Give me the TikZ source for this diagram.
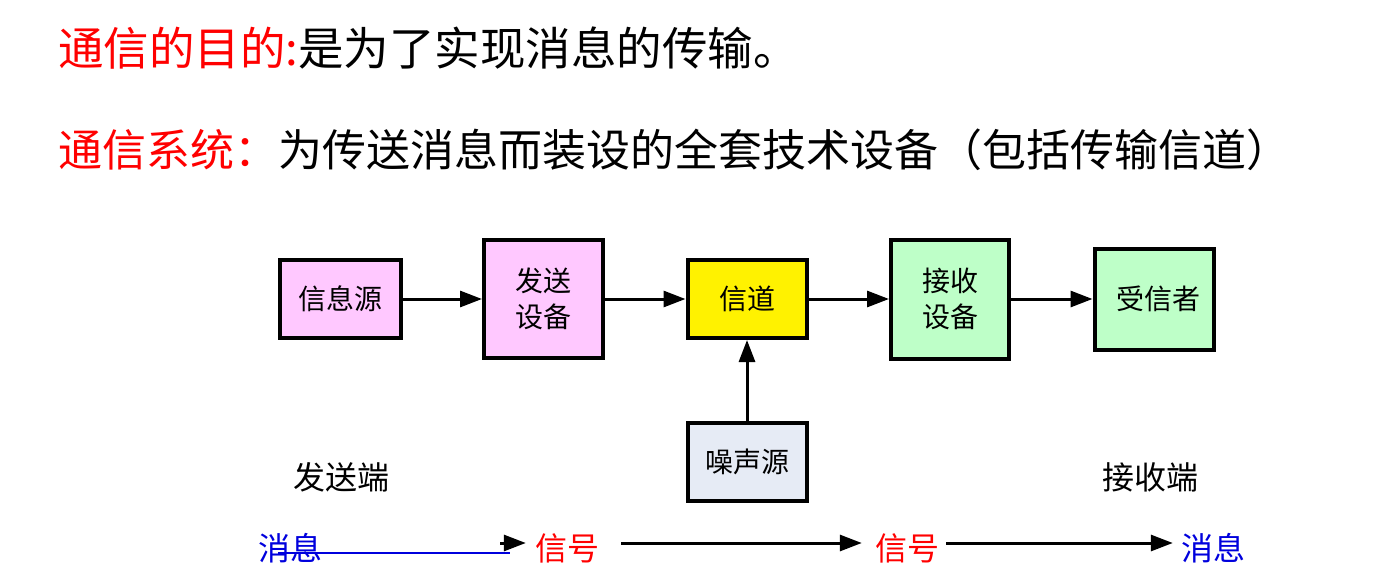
\documentclass[tikz,border=0pt]{standalone}
\usepackage{fontspec}
\setmainfont{Noto Sans CJK SC}
\usetikzlibrary{arrows.meta}
\definecolor{pinkfill}{HTML}{FFC8FF}
\definecolor{greenfill}{HTML}{BEFFC8}
\definecolor{noisefill}{HTML}{E6EBF5}
\definecolor{msgblue}{HTML}{0000DD}
\tikzset{
  box/.style={draw=black, line width=4pt, inner sep=0pt, align=center,
    font=\fontsize{28}{36}\selectfont, text=black},
  arr/.style={line width=3pt, -{Triangle[length=22pt,width=16pt]}},
  title/.style={anchor=west, inner sep=0pt, font=\fontsize{44}{50}\selectfont},
  lab/.style={inner sep=0pt, font=\fontsize{32}{36}\selectfont},
}
\begin{document}
\begin{tikzpicture}[x=1pt,y=-1pt]
\useasboundingbox (0,0) rectangle (1384,586);
% titles
\node[title, font=\fontsize{45.5}{50}\selectfont] (t1) at (58,48) {\textcolor{red}{通信的目的:}是为了实现消息的传输。};
\node[title] (t2) at (58,150) {\textcolor{red}{通信系统：}为传送消息而装设的全套技术设备（包括传输信道）};
% boxes
\node[box, fill=pinkfill, minimum width=121pt, minimum height=78pt] (src) at (340.5,299) {信息源};
\node[box, fill=pinkfill, minimum width=119pt, minimum height=118pt] (tx) at (543.5,299) {发送\\设备};
\node[box, fill=yellow, minimum width=119pt, minimum height=78pt] (ch) at (747,299) {信道};
\node[box, fill=greenfill, minimum width=118pt, minimum height=119pt] (rx) at (950,299) {接收\\设备};
\node[box, fill=greenfill, minimum width=119pt, minimum height=101pt] (dst) at (1154,299) {\hspace{8pt}受信者};
\node[box, fill=noisefill, minimum width=119pt, minimum height=78pt] (noise) at (747,462) {噪声源};
\draw[arr] (src) -- (tx);
\draw[arr] (tx) -- (ch);
\draw[arr] (ch) -- (rx);
\draw[arr] (rx) -- (dst);
\draw[arr] (noise) -- (ch);
% end labels
\node[lab] (sendend) at (341,477) {发送端};
\node[lab] (recvend) at (1150,477) {接收端};
% bottom row
\node[lab, text=msgblue] (m1) at (290,548) {消息};
\node[lab, text=red] (s1) at (567,548) {信号};
\node[lab, text=red] (s2) at (907,548) {信号};
\node[lab, text=msgblue] (m2) at (1213,548) {消息};
\coordinate (b1) at (510,553);
\coordinate (h1) at (500,543);
\draw[msgblue, line width=2pt] ([xshift=-12pt,yshift=-5pt]m1.center) -- (b1);
\draw[arr] (h1) -- ([yshift=5pt,xshift=-9pt]s1.west);
\draw[arr, shorten <=22pt, shorten >=13pt] ([yshift=5pt]s1.east) -- ([yshift=5pt]s2.west);
\draw[arr, shorten <=7pt, shorten >=8pt] ([yshift=5pt]s2.east) -- ([yshift=5pt]m2.west);
\end{tikzpicture}
\end{document}
